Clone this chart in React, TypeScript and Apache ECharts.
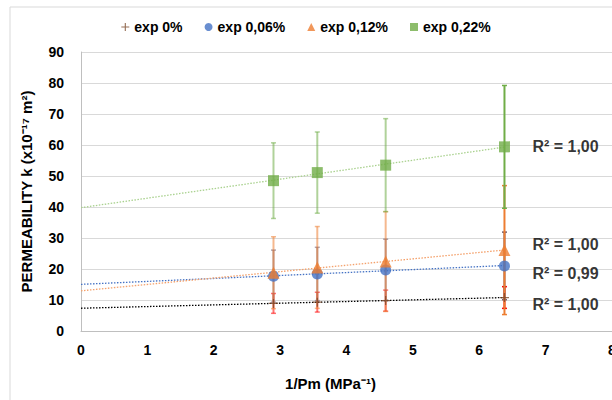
import React, { useEffect, useRef } from "react";
import * as echarts from "echarts";

const xValues = [2.9, 3.56, 4.59, 6.38];
const seriesNames = ["exp 0%", "exp 0,06%", "exp 0,12%", "exp 0,22%"];
const exp0 = [8.9, 9.3, 9.8, 10.8];
const err0 = [3.2, 3.2, 3.4, 3.5];
const exp006 = [17.7, 18.4, 19.7, 21.0];
const err006 = [8.4, 8.6, 9.9, 10.9];
const exp012 = [18.8, 20.5, 22.4, 26.1];
const err012 = [11.6, 13.2, 16.1, 20.8];
const exp022 = [48.5, 51.1, 53.5, 59.4];
const err022 = [12.2, 13.1, 15.0, 19.8];
const r2Labels = ["R² = 1,00", "R² = 0,99", "R² = 1,00", "R² = 1,00"];
const r2LabelY = [8.7, 18.4, 28.0, 59.4];
const r2LabelX = 7.3;

const FONT = "Liberation Sans";
const PLUS = "path://M4.3,0 H5.7 V4.3 H10 V5.7 H5.7 V10 H4.3 V5.7 H0 V4.3 H4.3 Z";

function fit(xs: number[], ys: number[]) {
  const n = xs.length;
  const mx = xs.reduce((a, b) => a + b, 0) / n;
  const my = ys.reduce((a, b) => a + b, 0) / n;
  let sxy = 0, sxx = 0;
  for (let i = 0; i < n; i++) {
    sxy += (xs[i] - mx) * (ys[i] - my);
    sxx += (xs[i] - mx) * (xs[i] - mx);
  }
  const a = sxy / sxx;
  const b = my - a * mx;
  return [a, b];
}

function trend(ys: number[]) {
  const [a, b] = fit(xValues, ys);
  const last = xValues[xValues.length - 1];
  return [[0, b], [last, a * last + b]];
}

function errData(ys: number[], es: number[]) {
  return ys.map((y, i) => [xValues[i], y - es[i], y + es[i]]);
}

function errSeries(name: string, ys: number[], es: number[], color: string) {
  return {
    type: "custom",
    name,
    data: errData(ys, es),
    z: 3,
    renderItem: (params: any, api: any) => {
      const x = api.value(0);
      const lo = api.value(1);
      const hi = api.value(2);
      const pTop = api.coord([x, hi]);
      const pBot = api.coord([x, lo]);
      const op = params.dataIndex === xValues.length - 1 ? 1 : 0.55;
      const cap = 2.5;
      return {
        type: "group",
        children: [
          { type: "line", shape: { x1: pTop[0], y1: pTop[1], x2: pBot[0], y2: pBot[1] }, style: { stroke: color, lineWidth: 2, opacity: op } },
          { type: "line", shape: { x1: pTop[0] - cap, y1: pTop[1], x2: pTop[0] + cap, y2: pTop[1] }, style: { stroke: color, lineWidth: 1.5, opacity: op } },
          { type: "line", shape: { x1: pBot[0] - cap, y1: pBot[1], x2: pBot[0] + cap, y2: pBot[1] }, style: { stroke: color, lineWidth: 1.5, opacity: op } },
        ],
      };
    },
  };
}

function trendSeries(name: string, ys: number[], color: string) {
  return {
    type: "line",
    name,
    data: trend(ys),
    symbol: "none",
    z: 2,
    lineStyle: { color, width: 1.3, type: [1.5, 1.5] },
  };
}

function pts(ys: number[]) {
  return ys.map((y, i) => [xValues[i], y]);
}

export default function App() {
  const ref = useRef<HTMLDivElement>(null);
  useEffect(() => {
    document.body.style.margin = "0";
    const chart = echarts.init(ref.current!, null, { renderer: "svg" });
    const colors = ["#b5622a", "#4472c4", "#ed7d31", "#70ad47"];
    chart.setOption({
      animation: false,
      textStyle: { fontFamily: FONT },
      graphic: [
        {
          type: "rect",
          shape: { x: 10, y: 7, width: 700, height: 500 },
          style: { fill: "none", stroke: "#d9d9d9", lineWidth: 1 },
          silent: true,
        },
      ],
      legend: {
        data: [
          { name: seriesNames[0], icon: PLUS },
          { name: seriesNames[1], icon: "circle" },
          { name: seriesNames[2], icon: "triangle" },
          { name: seriesNames[3], icon: "rect" },
        ],
        top: 15,
        left: "center",
        itemWidth: 8,
        itemHeight: 8,
        itemGap: 22,
        textStyle: { fontFamily: FONT, fontWeight: "bold", fontSize: 14, color: "#000" },
      },
      grid: { left: 81, right: 0, top: 52, bottom: 69, containLabel: false, outerBoundsMode: "none" },
      xAxis: {
        type: "value",
        min: 0,
        max: 8,
        interval: 1,
        name: "1/Pm (MPa⁻¹)",
        nameLocation: "middle",
        nameGap: 45,
        nameTextStyle: { fontFamily: FONT, fontWeight: "bold", fontSize: 15, color: "#000", padding: [0, 32, 0, 0] },
        axisLine: { show: true, lineStyle: { color: "#bfbfbf", width: 1 } },
        axisTick: { show: false },
        splitLine: { show: false },
        axisLabel: { margin: 12, fontFamily: FONT, fontWeight: "bold", fontSize: 14, color: "#000", hideOverlap: false },
      },
      yAxis: {
        type: "value",
        min: 0,
        max: 90,
        interval: 10,
        name: "PERMEABILITY k (x10⁻¹⁷ m²)",
        nameLocation: "middle",
        nameGap: 47,
        nameTextStyle: { fontFamily: FONT, fontWeight: "bold", fontSize: 15, color: "#000" },
        axisLine: { show: true, lineStyle: { color: "#bfbfbf", width: 1 } },
        axisTick: { show: false },
        splitLine: { show: true, lineStyle: { color: "#d9d9d9", width: 1 } },
        axisLabel: { margin: 17, fontFamily: FONT, fontWeight: "bold", fontSize: 14, color: "#000" },
      },
      series: [
        trendSeries("trend0", exp0, "#000000"),
        trendSeries("trend006", exp006, "#4472c4"),
        trendSeries("trend012", exp012, "#f4a06a"),
        trendSeries("trend022", exp022, "#a9d18e"),
        errSeries("err0", exp0, err0, "#ff0000"),
        errSeries("err006", exp006, err006, "#6f5a6a"),
        errSeries("err012", exp012, err012, "#ed7d31"),
        errSeries("err022", exp022, err022, "#70ad47"),
        {
          type: "scatter",
          name: seriesNames[0],
          data: pts(exp0),
          symbol: PLUS,
          symbolSize: 9,
          itemStyle: { color: "#7a4a2a" },
          z: 5,
        },
        {
          type: "scatter",
          name: seriesNames[1],
          data: pts(exp006),
          symbol: "circle",
          symbolSize: 11,
          itemStyle: { color: colors[1] },
          z: 5,
        },
        {
          type: "scatter",
          name: seriesNames[2],
          data: pts(exp012),
          symbol: "triangle",
          symbolSize: 12,
          itemStyle: { color: colors[2] },
          z: 5,
        },
        {
          type: "scatter",
          name: seriesNames[3],
          data: pts(exp022),
          symbol: "rect",
          symbolSize: 11,
          itemStyle: { color: colors[3] },
          z: 5,
        },
        {
          type: "scatter",
          name: "r2",
          data: r2LabelY.map((y) => [r2LabelX, y]),
          symbolSize: 0,
          z: 6,
          label: {
            show: true,
            position: "inside",
            formatter: (p: any) => r2Labels[p.dataIndex],
            fontFamily: FONT,
            fontWeight: "bold",
            fontSize: 16,
            color: "#000",
          },
        },
      ],
    });
    return () => chart.dispose();
  }, []);
  return <div ref={ref} style={{ width: 612, height: 400 }} />;
}
